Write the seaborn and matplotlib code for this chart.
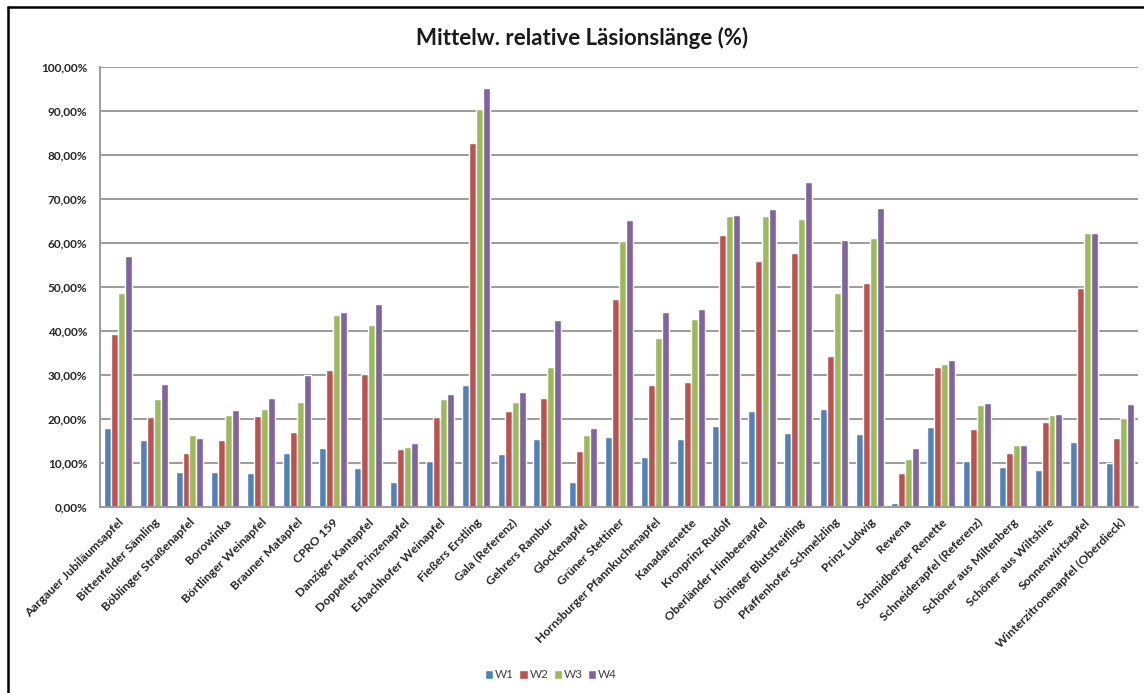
import numpy as np
import pandas as pd
import seaborn as sns
import matplotlib.pyplot as plt
from matplotlib.lines import Line2D
from matplotlib.ticker import FuncFormatter, FixedLocator

# Apple varieties and mean relative lesion length (%) per week
sorten = [
    "Aargauer Jubiläumsapfel", "Bittenfelder Sämling", "Böblinger Straßenapfel",
    "Borowinka", "Börtlinger Weinapfel", "Brauner Matapfel", "CPRO 159",
    "Danziger Kantapfel", "Doppelter Prinzenapfel", "Erbachhofer Weinapfel",
    "Fießers Erstling", "Gala (Referenz)", "Gehrers Rambur", "Glockenapfel",
    "Grüner Stettiner", "Hornsburger Pfannkuchenapfel", "Kanadarenette",
    "Kronprinz Rudolf", "Oberländer Himbeerapfel", "Öhringer Blutstreifling",
    "Pfaffenhofer Schmelzling", "Prinz Ludwig", "Rewena", "Schmidberger Renette",
    "Schneiderapfel (Referenz)", "Schöner aus Miltenberg", "Schöner aus Wiltshire",
    "Sonnenwirtsapfel", "Winterzitronenapfel (Oberdieck)",
]
w1 = [18.0, 15.2, 8.0, 8.0, 7.7, 12.3, 13.3, 8.9, 5.6, 10.5, 27.7, 12.0, 15.5, 5.6, 15.8,
      11.4, 15.4, 18.4, 21.9, 16.9, 22.2, 16.5, 0.8, 18.1, 10.5, 9.0, 8.4, 14.8, 10.1]
w2 = [39.3, 20.5, 12.3, 15.2, 20.6, 17.0, 31.1, 30.2, 13.1, 20.4, 82.7, 21.8, 24.7, 12.8, 47.2,
      27.7, 28.5, 61.7, 55.9, 57.8, 34.4, 50.8, 7.8, 31.9, 17.7, 12.3, 19.3, 49.8, 15.6]
w3 = [48.6, 24.6, 16.3, 20.8, 22.3, 23.9, 43.6, 41.4, 13.7, 24.5, 90.4, 23.9, 31.9, 16.3, 60.5,
      38.4, 42.7, 66.2, 66.2, 65.5, 48.7, 61.1, 10.8, 32.5, 23.1, 14.0, 20.8, 62.3, 20.2]
w4 = [56.9, 28.0, 15.6, 22.0, 24.8, 30.0, 44.4, 46.1, 14.6, 25.7, 95.2, 26.1, 42.5, 18.0, 65.2,
      44.2, 45.0, 66.3, 67.7, 73.7, 60.7, 67.9, 13.3, 33.4, 23.6, 14.0, 21.1, 62.3, 23.3]
wochen = ["W1", "W2", "W3", "W4"]
farben = ["#4F81BD", "#C0504D", "#9BBB59", "#8064A2"]

df = pd.DataFrame({
    "Sorte": sorten * 4,
    "Woche": np.repeat(wochen, len(sorten)),
    "Wert": w1 + w2 + w3 + w4,
})

sns.set_style("white")
plt.rcParams["font.family"] = ["Lato", "DejaVu Sans"]

fig = plt.figure(figsize=(11.44, 6.93), dpi=100)
ax = fig.add_axes([100 / 1144, 1 - 507 / 693, 1038 / 1144, (507 - 66.7) / 693])

sns.barplot(data=df, x="Sorte", y="Wert", hue="Woche", palette=farben,
            width=0.78, ax=ax, saturation=1, legend=True)

ax.set_xlim(-0.5, len(sorten) - 0.5)
ax.set_ylim(0, 100)
ax.set_yticks(np.arange(0, 101, 10))
ax.yaxis.set_major_formatter(FuncFormatter(lambda v, _: f"{v:.2f}".replace(".", ",") + "%"))
ax.yaxis.grid(True, color="#9c9c9c", lw=1.4)
ax.set_axisbelow(True)
ax.set_xlabel("")
ax.set_ylabel("")

for s in ["top", "right"]:
    ax.spines[s].set_visible(False)
for s in ["left", "bottom"]:
    ax.spines[s].set_color("#9c9c9c")
    ax.spines[s].set_linewidth(1.4)

ax.tick_params(axis="y", length=4, color="#9c9c9c", labelsize=8.5, labelcolor="#262626", pad=5)
ax.set_xticks(range(len(sorten)))
ax.set_xticklabels(sorten, rotation=45, ha="right", rotation_mode="anchor",
                   fontsize=8.8, fontweight="bold", color="#262626")
ax.tick_params(axis="x", which="major", length=0, pad=7)
ax.xaxis.set_minor_locator(FixedLocator(np.arange(-0.5, len(sorten), 1)))
ax.tick_params(axis="x", which="minor", length=3, color="#9c9c9c", width=1.2)
for lab in ax.get_yticklabels():
    lab.set_fontweight("bold")

leg = ax.legend(loc="center", bbox_to_anchor=(551 / 1144, 1 - 675 / 693),
                bbox_transform=fig.transFigure, ncol=4, frameon=False,
                fontsize=8.5, handlelength=0.7, handleheight=0.7, handletextpad=0.15,
                columnspacing=0.45)
for t in leg.get_texts():
    t.set_color("#404040")

fig.text(582 / 1144, 1 - 38 / 693, "Mittelw. relative Läsionslänge (%)",
         ha="center", va="center", fontsize=16, fontweight="bold", color="#1a1a1a")

# outer chart frame
fig.add_artist(Line2D([8 / 1144, 8 / 1144], [-0.01, 1 - 7 / 693], transform=fig.transFigure,
                      color="black", lw=1.8))
fig.add_artist(Line2D([8 / 1144, 1.01], [1 - 7 / 693, 1 - 7 / 693], transform=fig.transFigure,
                      color="black", lw=1.8))

fig.savefig("out.png", dpi=100)
